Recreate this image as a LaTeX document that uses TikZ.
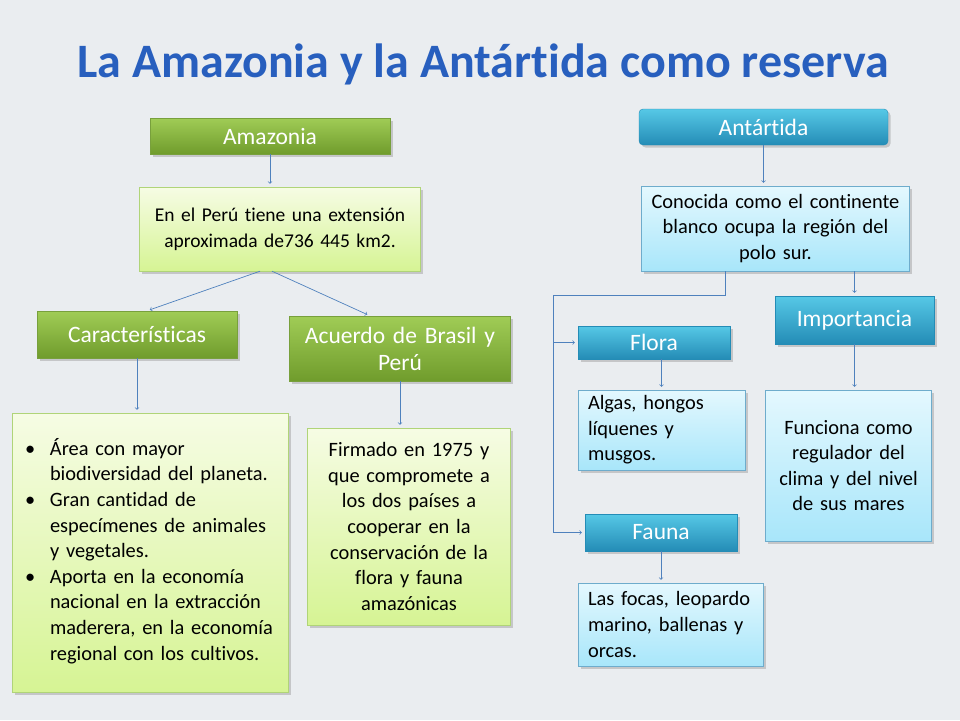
\documentclass[tikz,border=0pt]{standalone}
\usepackage{fontspec}
\setmainfont{Carlito}[Ligatures=NoCommon]
\usetikzlibrary{shadows}

\definecolor{bgcol}{RGB}{234,237,240}
\definecolor{conncol}{RGB}{79,129,189}
\definecolor{titlecol}{RGB}{40,95,190}
\definecolor{greentop}{RGB}{160,204,86}
\definecolor{greenbot}{RGB}{112,156,44}
\definecolor{greenline}{RGB}{120,160,60}
\definecolor{paletop}{RGB}{246,252,228}
\definecolor{palebot}{RGB}{214,244,148}
\definecolor{paleline}{RGB}{176,212,120}
\definecolor{bluetop}{RGB}{86,200,230}
\definecolor{bluebot}{RGB}{36,140,182}
\definecolor{icetop}{RGB}{228,248,254}
\definecolor{icebot}{RGB}{168,230,250}
\definecolor{iceline}{RGB}{110,172,204}

\begin{document}
\begin{tikzpicture}[x=1pt, y=-1pt,
    boxshadow/.style={drop shadow={opacity=0.35, shadow xshift=2.5pt, shadow yshift=-2.5pt}},
    greenhead/.style={draw=greenline, top color=greentop, bottom color=greenbot, text=white,
        font=\fontsize{23.5}{27}\selectfont, align=center, boxshadow},
    greenbox/.style={draw=paleline, top color=paletop, bottom color=palebot, text=black,
        font=\fontsize{20.4}{25.6}\selectfont, boxshadow},
    bluehead/.style={draw=bluebot, top color=bluetop, bottom color=bluebot, text=white,
        font=\fontsize{23.5}{27}\selectfont, align=center, boxshadow},
    bluebox/.style={draw=iceline, top color=icetop, bottom color=icebot, text=black,
        font=\fontsize{20.4}{25.6}\selectfont, boxshadow},
    conn/.style={->, draw=conncol, line width=0.7pt, shorten >=3pt}]

    % background
    \fill[bgcol] (0,0) rectangle (960,720);
    \useasboundingbox (0,0) rectangle (960,720);

    % title
    \node[anchor=base, text=titlecol, font=\fontsize{48}{56}\selectfont\bfseries] (title) at (483,77)
        {La Amazonia y la Antártida como reserva};

    % Amazonia side
    \node[greenhead, minimum width=240, minimum height=36] (amazonia) at (270,136) {Amazonia};
    \node[greenbox, text width=274, minimum height=84, align=center,
        font=\fontsize{19.5}{25.6}\selectfont] (amazext) at (280,229)
        {En el Perú tiene una extensión\\aproximada de736 445 km2.};
    \node[greenhead, minimum width=200, minimum height=47] (carac) at (137,334.5) {Características};
    \node[greenhead, text width=214, minimum height=65] (acuerdo) at (400,348.5)
        {Acuerdo de Brasil y\\Perú};
    \node[greenbox, text width=250, inner xsep=13, minimum height=279, align=left] (caraclist) at (150,552.5)
        {\begin{tabular}{@{}p{25pt}@{}l@{}}
            \textbullet & Área con mayor\\
             & biodiversidad del planeta.\\
            \textbullet & Gran cantidad de\\
             & especímenes de animales\\
             & y vegetales.\\
            \textbullet & Aporta en la economía\\
             & nacional en la extracción\\
             & maderera, en la economía\\
             & regional con los cultivos.
        \end{tabular}};
    \node[greenbox, text width=196, minimum height=197, align=center] (firmado) at (409,526.5)
        {Firmado en 1975 y\\que compromete a\\los dos países a\\cooperar en la\\conservación de la\\flora y fauna\\amazónicas};

    % Antartida side
    \node[bluehead, minimum width=249, minimum height=36, rounded corners=4pt] (antartida) at (763.5,127) {Antártida};
    \node[bluebox, text width=261, minimum height=85, align=center] (conocida) at (775.5,228.5)
        {Conocida como el continente\\blanco ocupa la región del\\polo sur.};
    \node[bluehead, minimum width=159, minimum height=48] (importancia) at (854.5,320) {Importancia};
    \node[bluehead, minimum width=152, minimum height=33] (flora) at (654,342.5) {Flora};
    \node[bluebox, text width=147, inner xsep=10, minimum height=80, align=left] (algas) at (661.5,430)
        {Algas, hongos\\líquenes y\\musgos.};
    \node[bluebox, text width=159, minimum height=151, align=center] (funciona) at (848.5,465.5)
        {Funciona como\\regulador del\\clima y del nivel\\de sus mares};
    \node[bluehead, minimum width=152, minimum height=37] (fauna) at (661,532.5) {Fauna};
    \node[bluebox, text width=165, inner xsep=10, minimum height=83, align=left] (focas) at (670.5,624.5)
        {Las focas, leopardo\\marino, ballenas y\\orcas.};

    % connectors left
    \draw[conn] (amazonia) -- (amazonia.south |- amazext.north);
    \draw[conn] ([xshift=-20pt]amazext.south) -- ([xshift=10pt]carac.north);
    \draw[conn] ([xshift=-8pt]amazext.south) -- ([xshift=-30pt]acuerdo.north);
    \draw[conn] (carac) -- (carac.south |- caraclist.north);
    \draw[conn] (acuerdo) -- (acuerdo.south |- firmado.north);

    % connectors right
    \draw[conn] (antartida) -- (antartida.south |- conocida.north);
    \coordinate (branch) at (553,295);
    \draw[conn] ([xshift=-50pt]conocida.south) |- (branch) |- (flora.west);
    \draw[conn] (branch) |- (fauna.west);
    \draw[conn] (importancia.north |- conocida.south) -- (importancia);
    \draw[conn] (algas.north |- flora.south) -- (algas);
    \draw[conn] (importancia) -- (importancia.south |- funciona.north);
    \draw[conn] (fauna) -- (fauna.south |- focas.north);
\end{tikzpicture}
\end{document}
